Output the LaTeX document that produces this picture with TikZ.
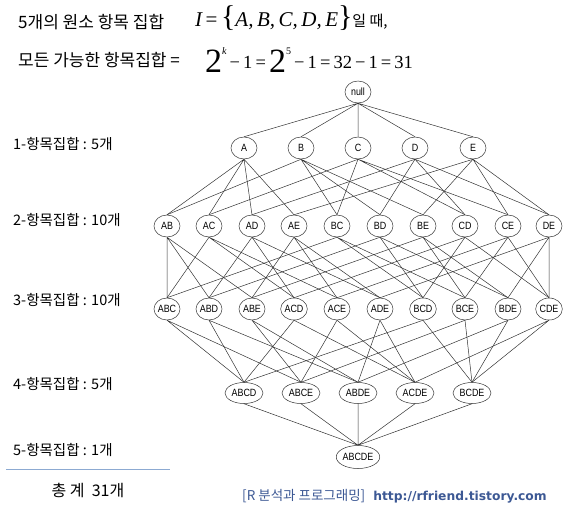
\documentclass[tikz,border=0pt]{standalone}
\usepackage{fontspec}
\setmainfont{Liberation Serif}
\newfontfamily\kor{Noto Sans CJK KR}
\newfontfamily\itemfont[FakeStretch=0.85]{Liberation Sans}
\newfontfamily\urlfont{DejaVu Sans}
\usetikzlibrary{shapes.geometric}
\definecolor{footblue}{RGB}{60,88,148}
\definecolor{rulelblue}{RGB}{140,170,210}

\begin{document}
\begin{tikzpicture}[x=1pt, y=-1pt,
   item/.style={ellipse, draw=black!80, line width=0.5pt, inner sep=0pt,
                minimum width=26pt, minimum height=22pt,
                font=\itemfont\fontsize{10.5}{11}\selectfont},
   itemwide/.style={item, minimum width=38pt, minimum height=21pt},
   itemfull/.style={item, minimum width=41pt, minimum height=23pt},
   edge/.style={draw=black!80, line width=0.5pt},
   label/.style={anchor=west, inner sep=0pt, font=\kor\fontsize{14.5}{16}\selectfont}]
   \useasboundingbox (0,0) rectangle (571,512);
   % Heading lines
   \node[label, font=\kor\fontsize{17}{19}\selectfont] (head1) at (18,22) {5개의 원소 항목 집합};
   \node[anchor=west, inner sep=0pt] (setI) at (195,18) {\fontsize{21}{22}\selectfont\itshape I\upshape\,=\,{\fontsize{30}{30}\selectfont\{}\itshape A,\,B,\,C,\,D,\,E\upshape{\fontsize{30}{30}\selectfont\}}{\kor\fontsize{15}{17}\selectfont 일 때,}};
   \node[label, font=\kor\fontsize{17}{19}\selectfont] (head2) at (18,60) {모든 가능한 항목집합 =};
   \node[anchor=base west, inner sep=0pt] (count) at (205,72) {\fontsize{34}{34}\selectfont 2\raisebox{18pt}{\fontsize{10}{10}\selectfont\itshape k}\raisebox{4pt}{\fontsize{18.5}{19}\selectfont\,−\,1\,=\,}2\raisebox{18pt}{\fontsize{10}{10}\selectfont 5}\raisebox{4pt}{\fontsize{18.5}{19}\selectfont\,−\,1\,=\,32\,−\,1\,=\,31}};
   % Level labels
   \node[label] (lab1) at (13,144) {1-항목집합 : 5개};
   \node[label] (lab2) at (13,220) {2-항목집합 : 10개};
   \node[label] (lab3) at (13,300) {3-항목집합 : 10개};
   \node[label] (lab4) at (13,384) {4-항목집합 : 5개};
   \node[label] (lab5) at (13,450) {5-항목집합 : 1개};
   \draw[rulelblue, line width=0.8pt] (6,469) -- (170,469);
   \node[font=\kor\fontsize{16}{18}\selectfont] (total) at (88,490) {총 계 \ 31개};
   % Itemsets
   \node[item] (null) at (358,92) {null};
   \node[item] (A) at (244,148) {A};
   \node[item] (B) at (301,148) {B};
   \node[item] (C) at (358,148) {C};
   \node[item] (D) at (415,148) {D};
   \node[item] (E) at (473,148) {E};
   \node[item] (AB) at (167,226) {AB};
   \node[item] (AC) at (209,226) {AC};
   \node[item] (AD) at (252,226) {AD};
   \node[item] (AE) at (294,226) {AE};
   \node[item] (BC) at (337,226) {BC};
   \node[item] (BD) at (380,226) {BD};
   \node[item] (BE) at (423,226) {BE};
   \node[item] (CD) at (465,226) {CD};
   \node[item] (CE) at (508,226) {CE};
   \node[item] (DE) at (549,226) {DE};
   \node[item] (ABC) at (167,309) {ABC};
   \node[item] (ABD) at (209,309) {ABD};
   \node[item] (ABE) at (252,309) {ABE};
   \node[item] (ACD) at (294,309) {ACD};
   \node[item] (ACE) at (337,309) {ACE};
   \node[item] (ADE) at (380,309) {ADE};
   \node[item] (BCD) at (423,309) {BCD};
   \node[item] (BCE) at (465,309) {BCE};
   \node[item] (BDE) at (508,309) {BDE};
   \node[item] (CDE) at (549,309) {CDE};
   \node[itemwide] (ABCD) at (244,393) {ABCD};
   \node[itemwide] (ABCE) at (301,393) {ABCE};
   \node[itemwide] (ABDE) at (358,393) {ABDE};
   \node[itemwide] (ACDE) at (415,393) {ACDE};
   \node[itemwide] (BCDE) at (472,393) {BCDE};
   \node[itemfull] (ABCDE) at (358,457) {ABCDE};
   % Edges: null to 1-itemsets
   \draw[edge] (null.south) -- (A.north) (null.south) -- (B.north) (null.south) -- (C.north) (null.south) -- (D.north) (null.south) -- (E.north);
   % Edges: 1-itemsets to 2-itemsets
   \draw[edge] (A.south) -- (AB.north) (A.south) -- (AC.north) (A.south) -- (AD.north) (A.south) -- (AE.north);
   \draw[edge] (B.south) -- (AB.north) (B.south) -- (BC.north) (B.south) -- (BD.north) (B.south) -- (BE.north);
   \draw[edge] (C.south) -- (AC.north) (C.south) -- (BC.north) (C.south) -- (CD.north) (C.south) -- (CE.north);
   \draw[edge] (D.south) -- (AD.north) (D.south) -- (BD.north) (D.south) -- (CD.north) (D.south) -- (DE.north);
   \draw[edge] (E.south) -- (AE.north) (E.south) -- (BE.north) (E.south) -- (CE.north) (E.south) -- (DE.north);
   % Edges: 2-itemsets to 3-itemsets
   \draw[edge] (AB.south) -- (ABC.north) (AB.south) -- (ABD.north) (AB.south) -- (ABE.north);
   \draw[edge] (AC.south) -- (ABC.north) (AC.south) -- (ACD.north) (AC.south) -- (ACE.north);
   \draw[edge] (AD.south) -- (ABD.north) (AD.south) -- (ACD.north) (AD.south) -- (ADE.north);
   \draw[edge] (AE.south) -- (ABE.north) (AE.south) -- (ACE.north) (AE.south) -- (ADE.north);
   \draw[edge] (BC.south) -- (ABC.north) (BC.south) -- (BCD.north) (BC.south) -- (BCE.north);
   \draw[edge] (BD.south) -- (ABD.north) (BD.south) -- (BCD.north) (BD.south) -- (BDE.north);
   \draw[edge] (BE.south) -- (ABE.north) (BE.south) -- (BCE.north) (BE.south) -- (BDE.north);
   \draw[edge] (CD.south) -- (ACD.north) (CD.south) -- (BCD.north) (CD.south) -- (CDE.north);
   \draw[edge] (CE.south) -- (ACE.north) (CE.south) -- (BCE.north) (CE.south) -- (CDE.north);
   \draw[edge] (DE.south) -- (ADE.north) (DE.south) -- (BDE.north) (DE.south) -- (CDE.north);
   % Edges: 3-itemsets to 4-itemsets
   \draw[edge] (ABC.south) -- (ABCD.north) (ABC.south) -- (ABCE.north);
   \draw[edge] (ABD.south) -- (ABCD.north) (ABD.south) -- (ABDE.north);
   \draw[edge] (ABE.south) -- (ABCE.north) (ABE.south) -- (ABDE.north);
   \draw[edge] (ACD.south) -- (ABCD.north) (ACD.south) -- (ACDE.north);
   \draw[edge] (ACE.south) -- (ABCE.north) (ACE.south) -- (ACDE.north);
   \draw[edge] (ADE.south) -- (ABDE.north) (ADE.south) -- (ACDE.north);
   \draw[edge] (BCD.south) -- (ABCD.north) (BCD.south) -- (BCDE.north);
   \draw[edge] (BCE.south) -- (ABCE.north) (BCE.south) -- (BCDE.north);
   \draw[edge] (BDE.south) -- (ABDE.north) (BDE.south) -- (BCDE.north);
   \draw[edge] (CDE.south) -- (ACDE.north) (CDE.south) -- (BCDE.north);
   % Edges: 4-itemsets to 5-itemset
   \draw[edge] (ABCD.south) -- (ABCDE.north) (ABCE.south) -- (ABCDE.north) (ABDE.south) -- (ABCDE.north) (ACDE.south) -- (ABCDE.north) (BCDE.south) -- (ABCDE.north);
   % Footer
   \node[anchor=west, inner sep=0pt, text=footblue] (foot) at (242,496) {{\kor\fontsize{13.5}{15}\selectfont [R 분석과 프로그래밍]}\hspace{8pt}{\urlfont\bfseries\fontsize{12.3}{14}\selectfont http://rfriend.tistory.com}};
\end{tikzpicture}
\end{document}
